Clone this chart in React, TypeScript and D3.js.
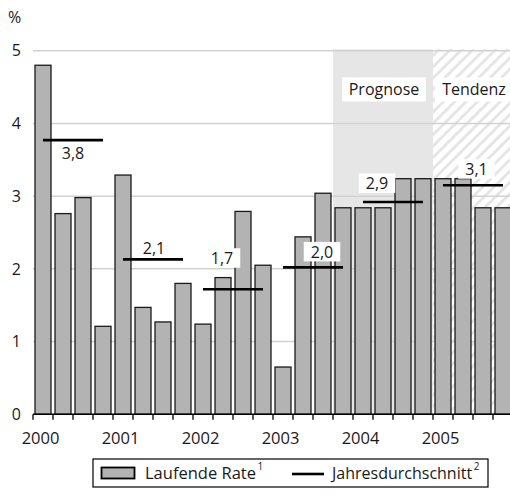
import React from "react";
import * as d3 from "d3";

const quarters = [
  "2000Q1", "2000Q2", "2000Q3", "2000Q4",
  "2001Q1", "2001Q2", "2001Q3", "2001Q4",
  "2002Q1", "2002Q2", "2002Q3", "2002Q4",
  "2003Q1", "2003Q2", "2003Q3", "2003Q4",
  "2004Q1", "2004Q2", "2004Q3", "2004Q4",
  "2005Q1", "2005Q2", "2005Q3", "2005Q4",
];
const rates = [
  4.8, 2.76, 2.98, 1.21,
  3.29, 1.47, 1.27, 1.8,
  1.24, 1.88, 2.79, 2.05,
  0.65, 2.44, 3.04, 2.84,
  2.84, 2.84, 3.24, 3.24,
  3.24, 3.24, 2.84, 2.84,
];
const years = ["2000", "2001", "2002", "2003", "2004", "2005"];
const yearAvg = [3.77, 2.13, 1.72, 2.02, 2.92, 3.15];
// label offsets (layout) relative to the centre of each average line
const avgLabelOffsets: [number, number][] = [
  [0, 13],
  [1, -11.5],
  [-11, -31],
  [9, -15.5],
  [-16, -18.5],
  [3.5, -16],
];
const yTicks = [0, 1, 2, 3, 4, 5];
const phaseNames = ["Prognose", "Tendenz"];
const phaseStart = ["2003Q4", "2005Q1"];
const phaseEnd = ["2004Q4", "2005Q4"];

const W = 510;
const H = 495;
const FONT = "'Open Sans', sans-serif";
const TXT = "#1a1a1a";
const fmt = (v: number) => d3.format(".1f")(v).replace(".", ",");

export default function App() {
  const x = d3
    .scaleBand<string>()
    .domain(quarters)
    .range([33, 513])
    .paddingInner(0.2)
    .paddingOuter(0.1);
  const y = d3.scaleLinear().domain([0, 5]).range([414.3, 50.7]);
  const step = x.step();
  const bw = x.bandwidth();
  const gap = (step - bw) / 2;
  const bandStart = (q: string) => (x(q) as number) - gap;
  const bandEnd = (q: string) => (x(q) as number) + bw + gap;
  const center = (q: string) => (x(q) as number) + bw / 2;
  const x0 = 33;
  const xEnd = W;

  const regionTop = y(5) - 1.5;

  return (
    <svg
      width={W}
      height={H}
      style={{ position: "absolute", left: 0, top: 0, background: "#fff" }}
      fontFamily={FONT}
    >
      <defs>
        <pattern
          id="hatch"
          width={8}
          height={8}
          patternUnits="userSpaceOnUse"
          patternTransform="rotate(45)"
        >
          <rect width={8} height={8} fill="#fff" />
          <line x1={1.5} y1={0} x2={1.5} y2={8} stroke="#e2e2e2" strokeWidth={2.6} />
        </pattern>
      </defs>
      <rect width={W} height={H} fill="#fff" />

      {/* phase regions */}
      {phaseNames.map((p, i) => {
        const a = bandStart(phaseStart[i]);
        const b = Math.min(bandEnd(phaseEnd[i]), xEnd);
        return (
          <rect
            key={p}
            x={a}
            y={regionTop}
            width={b - a}
            height={y(0) - regionTop}
            fill={i === 0 ? "#e6e6e6" : "url(#hatch)"}
          />
        );
      })}

      {/* gridlines */}
      {yTicks
        .filter((t) => t > 0)
        .map((t) => (
          <line
            key={t}
            x1={x0}
            x2={xEnd}
            y1={y(t)}
            y2={y(t)}
            stroke="#d2d2d2"
            strokeWidth={1.5}
          />
        ))}

      {/* y tick labels */}
      {yTicks.map((t) => (
        <text
          key={t}
          x={21}
          y={y(t)}
          dy="0.36em"
          textAnchor="end"
          fontSize={16}
          fill={TXT}
        >
          {t}
        </text>
      ))}
      <text x={8} y={23} fontSize={16} fill={TXT}>
        %
      </text>

      {/* bars */}
      {quarters.map((q, i) => (
        <rect
          key={q}
          x={x(q)}
          y={y(rates[i])}
          width={bw}
          height={y(0) - y(rates[i])}
          fill="#b3b3b3"
          stroke="#1a1a1a"
          strokeWidth={1.3}
        />
      ))}

      {/* x axis */}
      <line x1={x0} x2={xEnd} y1={y(0)} y2={y(0)} stroke="#000" strokeWidth={1.5} />
      {quarters.map((q) => (
        <line
          key={q}
          x1={bandStart(q)}
          x2={bandStart(q)}
          y1={y(0)}
          y2={y(0) + 5.5}
          stroke="#000"
          strokeWidth={1.3}
        />
      ))}
      {years.map((yr) => (
        <text
          key={yr}
          x={center(yr + "Q1") - 2.5}
          y={444}
          textAnchor="middle"
          fontSize={16.5}
          fill={TXT}
        >
          {yr}
        </text>
      ))}

      {/* yearly averages */}
      {years.map((yr, i) => {
        const a = center(yr + "Q1");
        const b = center(yr + "Q4");
        return (
          <line
            key={yr}
            x1={a}
            x2={b}
            y1={y(yearAvg[i])}
            y2={y(yearAvg[i])}
            stroke="#000"
            strokeWidth={2.6}
          />
        );
      })}
      {years.map((yr, i) => {
        const cx = (center(yr + "Q1") + center(yr + "Q4")) / 2 + avgLabelOffsets[i][0];
        const cy = y(yearAvg[i]) + avgLabelOffsets[i][1];
        const label = fmt(yearAvg[i]);
        const tw = 22.5;
        return (
          <g key={yr}>
            <rect x={cx - tw / 2 - 7} y={cy - 10} width={tw + 14} height={19.5} fill="#fff" />
            <text x={cx} y={cy} dy="0.36em" textAnchor="middle" fontSize={16} fill={TXT}>
              {label}
            </text>
          </g>
        );
      })}

      {/* phase labels */}
      {phaseNames.map((p, i) => {
        const a = bandStart(phaseStart[i]);
        const b = Math.min(bandEnd(phaseEnd[i]), xEnd);
        const cx = i === 0 ? (a + b) / 2 + 1 : (a + b) / 2 + 2.5;
        const bx0 = i === 0 ? cx - 42 : a + 2;
        const bx1 = i === 0 ? cx + 42 : xEnd;
        return (
          <g key={p}>
            <rect x={bx0} y={77.5} width={bx1 - bx0} height={24} fill="#fff" />
            <text x={cx} y={89.5} dy="0.36em" textAnchor="middle" fontSize={16} fill={TXT}>
              {p}
            </text>
          </g>
        );
      })}

      {/* legend */}
      <rect x={93} y={459} width={395} height={28} fill="#fff" stroke="#000" strokeWidth={1.2} />
      <rect x={101.5} y={467.5} width={33} height={11} fill="#b3b3b3" stroke="#000" strokeWidth={1.8} />
      <text x={145} y={479} fontSize={16.5} fill={TXT}>
        Laufende Rate
        <tspan fontSize={10} dy={-9} dx={1.5}>1</tspan>
      </text>
      <line x1={292} x2={324} y1={474} y2={474} stroke="#000" strokeWidth={2.6} />
      <text x={332} y={479} fontSize={16} fill={TXT}>
        Jahresdurchschnitt
        <tspan fontSize={10} dy={-9} dx={1.5}>2</tspan>
      </text>
    </svg>
  );
}
